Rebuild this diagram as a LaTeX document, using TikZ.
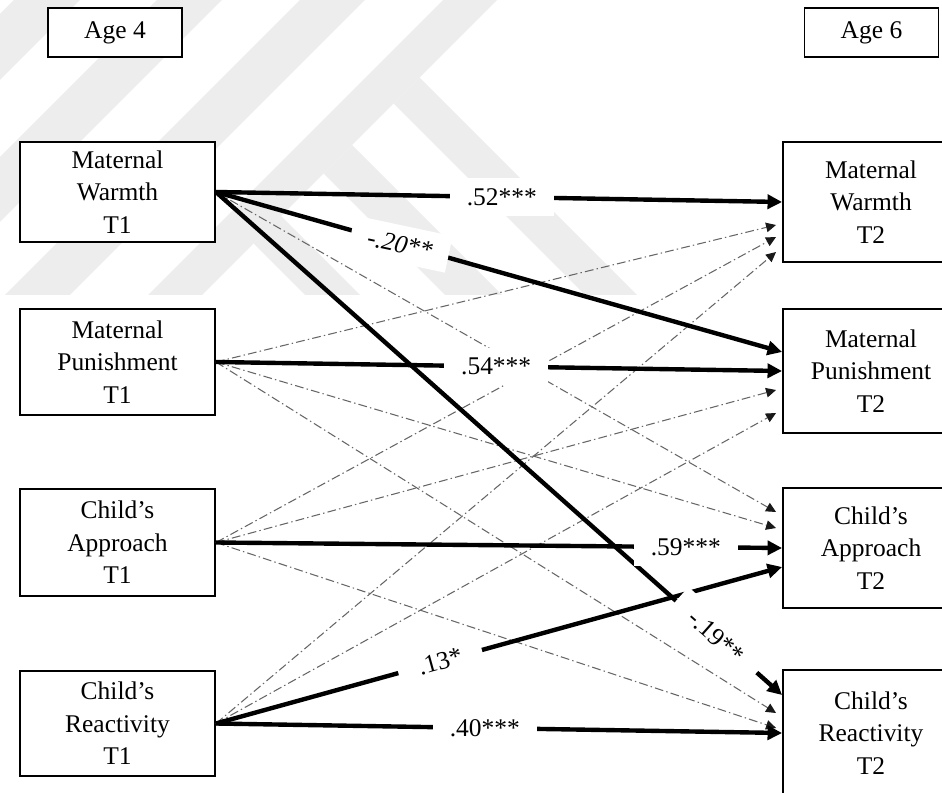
\documentclass[tikz,border=0pt]{standalone}
\usepackage{fontspec}
\setmainfont{Liberation Serif}
\usetikzlibrary{arrows.meta,calc}

\tikzset{
  wmark/.style={fill=black!7, draw=none},
  varbox/.style={draw, line width=1.1pt, fill=white, align=center, inner sep=0pt,
    minimum width=3.9cm, font=\fontsize{14.5}{18.5}\selectfont},
  rightbox/.style={varbox, minimum width=3.52cm},
  agebox/.style={draw, line width=1.1pt, fill=white, minimum width=2.68cm,
    minimum height=0.98cm, font=\fontsize{14.5}{17}\selectfont},
  effect/.style={line width=2.5pt, -{Triangle[length=0.29cm,width=0.28cm]}},
  crosslag/.style={black!60, line width=0.6pt, dash pattern=on 5pt off 1.8pt on 0.8pt off 1.8pt,
    -{Triangle[length=0.2cm,width=0.19cm,color=black!90]}},
  coef/.style={fill=white, inner xsep=0.34cm, inner ysep=0.2cm, font=\fontsize{14.5}{17}\selectfont}
}

\begin{document}
\begin{tikzpicture}[x=0.02cm, y=-0.02cm]
	\useasboundingbox (0,0) rectangle (942,793);
	\clip (0,0) rectangle (942,793);

	% watermark
	\foreach \a/\b in {14/80, 157/222, 300/365, 443/497}
		\fill [wmark] (\a,0) -- (\b,0) -- (\b-295,295) -- (\a-295,295) -- cycle;
	\foreach \c/\d in {290/342, 150/207, 10/65}
		\fill [wmark] ({497-(497-\d)/2},{(497-\d)/2}) -- ({497-(497-\c)/2},{(497-\c)/2})
			-- (295+\c,295) -- (295+\d,295) -- cycle;

	% boxes
	\node [agebox] (age4) at (115,32.5) {Age 4};
	\node [agebox] (age6) at (871.5,32.5) {Age 6};

	\node [varbox, minimum height=2cm] (mw1) at (117.5,192) {Maternal\\Warmth\\T1};
	\node [varbox, minimum height=2.12cm] (mp1) at (117.5,362) {Maternal\\Punishment\\T1};
	\node [varbox, minimum height=2.14cm] (ca1) at (117.5,542.5) {Child's\\Approach\\T1};
	\node [varbox, minimum height=2.1cm] (cr1) at (117.5,723.5) {Child's\\Reactivity\\T1};

	\node [rightbox, minimum height=2.4cm] (mw2) at (871,202) {Maternal\\Warmth\\T2};
	\node [rightbox, minimum height=2.48cm] (mp2) at (871,371) {Maternal\\Punishment\\T2};
	\node [rightbox, minimum height=2.4cm] (ca2) at (871,548) {Child's\\Approach\\T2};
	\node [rightbox, minimum height=2.52cm] (cr2) at (871,733) {Child's\\Reactivity\\T2};

	% cross-lagged paths
	\draw [crosslag] (mp1.east) -- ($(mw2.west)+(-6,23)$);
	\draw [crosslag] (ca1.east) -- ($(mw2.west)+(-6,35)$);
	\draw [crosslag] (cr1.east) -- ($(mw2.west)+(-6,50)$);
	\draw [crosslag] (ca1.east) -- ($(mp2.west)+(-6,19)$);
	\draw [crosslag] (cr1.east) -- ($(mp2.west)+(-6,42)$);
	\draw [crosslag] (mw1.east) -- ($(ca2.west)+(-6,-36)$);
	\draw [crosslag] (mp1.east) -- ($(ca2.west)+(-6,-20)$);
	\draw [crosslag] (mp1.east) -- ($(cr2.west)+(-6,-20)$);
	\draw [crosslag] (ca1.east) -- ($(cr2.west)+(-6,-5)$);

	% significant paths
	\draw [effect] (mw1.east) -- (mw2.west);
	\draw [effect] (mw1.east) -- ($(mp2.west)+(0,-19)$);
	\draw [effect] (mw1.east) -- ($(cr2.west)+(0,-38)$);
	\draw [effect] (mp1.east) -- (mp2.west);
	\draw [effect] (ca1.east) -- (ca2.west);
	\draw [effect] (cr1.east) -- ($(ca2.west)+(0,19)$);
	\draw [effect] (cr1.east) -- (cr2.west);

	% coefficients
	\path (mw1.east) -- (mw2.west) node [coef, pos=0.505] (c52) {.52***};
	\path (mw1.east) -- ($(mp2.west)+(0,-19)$) node [coef, pos=0.325, rotate=-12] (c20) {\itshape -.20**};
	\path (mw1.east) -- ($(cr2.west)+(0,-38)$) node [coef, pos=0.884, sloped, inner xsep=0.42cm] (c19) {-.19**};
	\path (mp1.east) -- (mp2.west) node [coef, pos=0.495] (c54) {.54***};
	\path (ca1.east) -- (ca2.west) node [coef, pos=0.83] (c59) {.59***};
	\path (cr1.east) -- ($(ca2.west)+(0,19)$) node [coef, pos=0.396, sloped, inner xsep=0.42cm] (c13) {.13*};
	\path (cr1.east) -- (cr2.west) node [coef, pos=0.475] (c40) {.40***};
\end{tikzpicture}
\end{document}
